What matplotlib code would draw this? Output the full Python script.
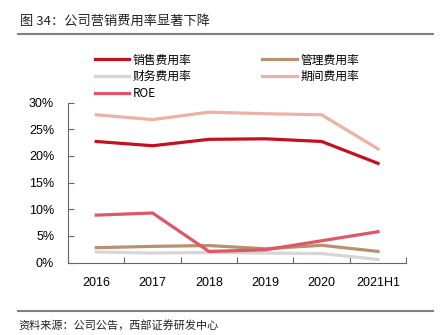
import matplotlib.pyplot as plt
from matplotlib.ticker import FixedLocator, PercentFormatter

plt.rcParams['font.family'] = ['Noto Sans CJK SC', 'DejaVu Sans']

years = ['2016', '2017', '2018', '2019', '2020', '2021H1']
sales_rate = [22.7, 21.9, 23.1, 23.2, 22.7, 18.6]
admin_rate = [2.8, 3.05, 3.2, 2.6, 3.25, 2.1]
finance_rate = [2.0, 1.8, 1.9, 1.8, 1.7, 0.6]
period_rate = [27.7, 26.8, 28.2, 27.9, 27.7, 21.3]
roe = [8.9, 9.3, 2.1, 2.4, 4.1, 5.8]

fig = plt.figure(figsize=(4.42, 3.35), dpi=100)
ax = fig.add_axes([0.154, 0.216, 0.765, 0.478])

x = range(len(years))
lw = 2.3
l_sales, = ax.plot(x, sales_rate, color='#C4101F', lw=lw, label='销售费用率')
l_admin, = ax.plot(x, admin_rate, color='#B8916E', lw=lw, label='管理费用率')
l_fin, = ax.plot(x, finance_rate, color='#D6D6D6', lw=lw, label='财务费用率')
l_period, = ax.plot(x, period_rate, color='#EDB2A6', lw=lw, label='期间费用率')
l_roe, = ax.plot(x, roe, color='#E05568', lw=lw, label='ROE')

ax.set_xlim(-0.5, len(years) - 0.5)
ax.set_ylim(0, 30)
ax.set_yticks(range(0, 31, 5))
ax.yaxis.set_major_formatter(PercentFormatter(decimals=0))
ax.set_xticks(list(x))
ax.set_xticklabels(years)
ax.xaxis.set_minor_locator(FixedLocator([i + 0.5 for i in range(-1, len(years))]))

ax.tick_params(axis='x', which='major', length=0, pad=10)
ax.tick_params(axis='x', which='minor', direction='in', length=4, width=0.8, color='#666666')
ax.tick_params(axis='y', direction='in', length=4, width=0.8, color='#666666', pad=10)
for lab in ax.get_xticklabels() + ax.get_yticklabels():
    lab.set_family('Liberation Sans')
    lab.set_fontsize(9)

for side in ['top', 'right']:
    ax.spines[side].set_visible(False)
for side in ['left', 'bottom']:
    ax.spines[side].set_color('#666666')
    ax.spines[side].set_linewidth(0.8)

fig.legend(handles=[l_sales, l_fin, l_roe, l_admin, l_period],
           ncol=2, loc='upper left', bbox_to_anchor=(0.215, 0.84),
           frameon=False, fontsize=8.5, handlelength=2.9, handletextpad=0.3,
           columnspacing=6.0, labelspacing=0.3, borderaxespad=0, borderpad=0)

fig.text(0.045, 0.937, '图 34：公司营销费用率显著下降', fontsize=9.5, va='center', color='#222222')
fig.add_artist(plt.Line2D([0.041, 0.98], [0.9, 0.9], color='#808080', lw=1.5))
fig.add_artist(plt.Line2D([0.041, 0.98], [0.072, 0.072], color='#808080', lw=1.5))
fig.text(0.041, 0.03, '资料来源：公司公告，西部证券研发中心', fontsize=8, va='center', color='#222222')

fig.savefig('out.png', dpi=100)
